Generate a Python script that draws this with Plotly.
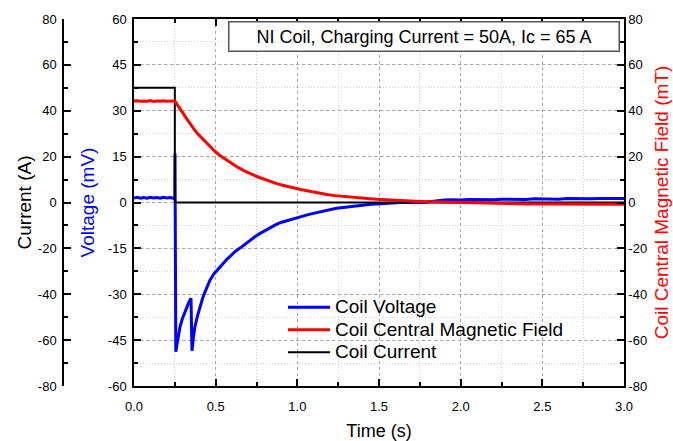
import plotly.graph_objects as go

# Coil voltage (mV) versus time (s)
t_volt = [0.00, 0.02, 0.04, 0.06, 0.08, 0.10, 0.12, 0.14, 0.16, 0.18, 0.20, 0.22, 0.24, 0.250,
          0.251, 0.253, 0.256, 0.262, 0.271, 0.282, 0.296, 0.312, 0.333, 0.349, 0.352, 0.355,
          0.364, 0.373, 0.39, 0.404, 0.42, 0.435, 0.45, 0.465, 0.49, 0.51, 0.527, 0.55, 0.57, 0.588,
          0.62, 0.649, 0.68, 0.71, 0.74, 0.772, 0.80, 0.833, 0.86, 0.894, 0.93, 0.976, 1.02, 1.05,
          1.078, 1.11, 1.14, 1.18, 1.21, 1.24, 1.28, 1.31, 1.34, 1.384, 1.42, 1.45, 1.486, 1.52,
          1.55, 1.588, 1.62, 1.66, 1.70, 1.74, 1.78, 1.82, 1.86, 1.90, 1.95, 2.00, 2.05, 2.10,
          2.15, 2.20, 2.25, 2.30, 2.35, 2.40, 2.45, 2.50, 2.55, 2.60, 2.65, 2.70, 2.75, 2.80,
          2.85, 2.90, 2.95, 3.00]
voltage = [1.5, 1.7, 1.4, 1.6, 1.4, 1.7, 1.5, 1.6, 1.4, 1.7, 1.5, 1.6, 1.4, 1.5,
           16.0, -12.0, -48.8, -46.8, -43.9, -40.6, -38.0, -35.7, -33.0, -31.3, -40.0, -48.5,
           -44.0, -40.6, -36.8, -34.1, -31.3, -29.2, -27.4, -25.4, -23.3, -22.0, -20.9, -19.7, -18.5, -17.6,
           -16.0, -14.9, -13.6, -12.3, -11.2, -10.1, -9.2, -8.2, -7.5, -6.6, -6.0, -5.2, -4.6, -4.2,
           -3.8, -3.4, -3.0, -2.5, -2.2, -1.9, -1.6, -1.4, -1.1, -1.0, -0.8, -0.6, -0.5, -0.4,
           -0.2, -0.1, 0.0, 0.1, 0.0, 0.2, 0.1, 0.4, 0.7, 0.8, 0.9, 0.8, 1.0, 0.9,
           1.0, 0.9, 1.1, 1.0, 1.1, 1.0, 1.2, 1.1, 1.2, 1.1, 1.3, 1.2, 1.3, 1.2,
           1.3, 1.3, 1.4, 1.3]

# Coil central magnetic field (mT) versus time (s)
t_field = [0.00, 0.02, 0.04, 0.06, 0.08, 0.10, 0.12, 0.14, 0.16, 0.18, 0.20, 0.22, 0.24, 0.25,
           0.265, 0.282, 0.30, 0.32, 0.34, 0.363, 0.39, 0.41, 0.44, 0.465, 0.50, 0.53, 0.568,
           0.60, 0.63, 0.67, 0.70, 0.74, 0.772, 0.81, 0.84, 0.874, 0.91, 0.94, 0.976, 1.02,
           1.078, 1.13, 1.18, 1.23, 1.28, 1.33, 1.38, 1.43, 1.486, 1.54, 1.588, 1.65, 1.72,
           1.80, 1.90, 2.00, 2.10, 2.20, 2.30, 2.40, 2.50, 2.60, 2.70, 2.80, 2.90, 3.00]
field = [44.2, 44.4, 44.1, 44.3, 44.1, 44.4, 44.0, 44.3, 44.2, 44.4, 44.1, 44.3, 44.2, 44.2,
         42.8, 41.0, 39.0, 36.8, 34.6, 32.4, 30.0, 28.5, 26.2, 24.3, 22.0, 20.3, 18.4,
         16.9, 15.6, 14.0, 12.9, 11.7, 10.8, 9.7, 8.9, 8.2, 7.5, 6.9, 6.4, 5.7,
         4.8, 4.1, 3.5, 3.0, 2.6, 2.3, 2.0, 1.7, 1.45, 1.2, 0.9, 0.7, 0.5,
         0.3, 0.1, -0.1, -0.3, -0.4, -0.5, -0.6, -0.6, -0.7, -0.7, -0.8, -0.8, -0.8]

# Coil charging current (A) versus time (s)
t_current = [0.0, 0.25, 0.25, 3.0]
current = [50, 50, 0, 0]

# Axis tick values
volt_ticks = [-60, -45, -30, -15, 0, 15, 30, 45, 60]
amp_ticks = [-80, -60, -40, -20, 0, 20, 40, 60, 80]
field_ticks = [-80, -60, -40, -20, 0, 20, 40, 60, 80]

FONT = "Liberation Sans, Arial, sans-serif"
W, H = 673, 441
PLOT_L, PLOT_R, PLOT_T, PLOT_B = 134, 624, 19, 386


def legend_label(text):
    return '<span style="font-size:19px">' + text + "</span>"


def tick_labels(values):
    # plain hyphen-minus for negative labels
    return [str(v) for v in values]


fig = go.Figure()
fig.add_trace(go.Scatter(x=t_volt, y=voltage, name=legend_label("Coil Voltage"), mode="lines",
                         line=dict(color="#0000ff", width=3), yaxis="y"))
fig.add_trace(go.Scatter(x=t_field, y=field, name=legend_label("Coil Central Magnetic Field"),
                         mode="lines", line=dict(color="#ff0000", width=3), yaxis="y3"))
fig.add_trace(go.Scatter(x=t_current, y=current, name=legend_label("Coil Current"), mode="lines",
                         line=dict(color="#000000", width=2), yaxis="y2"))

tick_common = dict(ticks="inside", ticklen=7, tickwidth=1.5, tickcolor="black",
                   showline=True, linecolor="black", linewidth=1.5, automargin=False,
                   tickfont=dict(family=FONT, size=13, color="black"), zeroline=False)

fig.update_layout(
    width=W, height=H,
    margin=dict(l=0, r=0, t=PLOT_T, b=H - PLOT_B, pad=0, autoexpand=False),
    paper_bgcolor="white", plot_bgcolor="white",
    font=dict(family=FONT, color="black"),
    xaxis=dict(domain=[PLOT_L / W, PLOT_R / W], range=[0, 3], dtick=0.5, tickformat=".1f",
               mirror="ticks", ticklabelstandoff=8,
               showgrid=True, gridcolor="#a8a8a8", griddash="3px,3px", gridwidth=1,
               minor=dict(dtick=0.25, ticks="inside", ticklen=4, tickcolor="black",
                          showgrid=True, gridcolor="#cfcfcf", griddash="1px,2px", gridwidth=1),
               title=dict(text="Time (s)", font=dict(family=FONT, size=18), standoff=11),
               **tick_common),
    yaxis=dict(range=[-60, 60], tickmode="array", tickvals=volt_ticks,
               ticktext=tick_labels(volt_ticks), side="left", ticklabelstandoff=3,
               showgrid=True, gridcolor="#a8a8a8", griddash="3px,3px", gridwidth=1,
               minor=dict(dtick=7.5, tick0=0, ticks="inside", ticklen=4, tickcolor="black",
                          showgrid=True, gridcolor="#cfcfcf", griddash="1px,2px", gridwidth=1),
               title=dict(text="Voltage (mV)", font=dict(family=FONT, size=19, color="#0000ff"),
                          standoff=8),
               **tick_common),
    yaxis2=dict(range=[-80, 80], tickmode="array", tickvals=amp_ticks,
                ticktext=tick_labels(amp_ticks), overlaying="y", anchor="free", position=63 / W,
                side="left", showgrid=False, ticklabelstandoff=3,
                minor=dict(dtick=10, tick0=0, ticks="inside", ticklen=4, tickcolor="black"),
                title=dict(text="Current (A)", font=dict(family=FONT, size=19), standoff=0),
                **tick_common),
    yaxis3=dict(range=[-80, 80], tickmode="array", tickvals=field_ticks,
                ticktext=tick_labels(field_ticks), overlaying="y", anchor="x", side="right",
                showgrid=False,
                minor=dict(dtick=10, tick0=0, ticks="inside", ticklen=4, tickcolor="black"),
                title=dict(text="Coil Central Magnetic Field (mT)",
                           font=dict(family=FONT, size=19, color="#ff0000"), standoff=9),
                **tick_common),
    legend=dict(x=283 / W, y=(PLOT_B - 291) / (PLOT_B - PLOT_T), xanchor="left", yanchor="top",
                bgcolor="rgba(0,0,0,0)", borderwidth=0, itemwidth=42,
                font=dict(family=FONT, size=15, color="black"), tracegroupgap=0),
    showlegend=True,
)

fig.add_annotation(
    xref="paper", yref="paper",
    x=423.5 / W, y=(PLOT_B - 36) / (PLOT_B - PLOT_T),
    text="NI Coil, Charging Current = 50A, Ic = 65 A",
    showarrow=False, xanchor="center", yanchor="middle",
    width=387, height=26, borderpad=1,
    bordercolor="#555555", borderwidth=1.5, bgcolor="white",
    font=dict(family=FONT, size=18, color="black"),
)

fig.write_html("out.html")
